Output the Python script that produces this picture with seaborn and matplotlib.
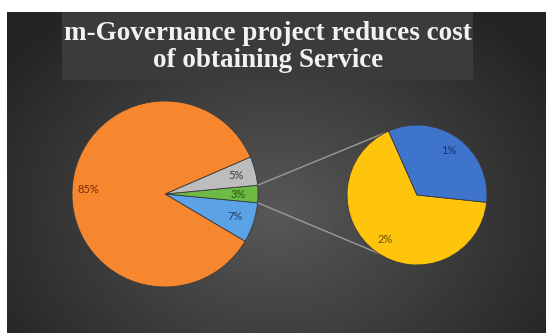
import numpy as np
import matplotlib
matplotlib.use("Agg")
import matplotlib.pyplot as plt
import seaborn as sns

# Main pie: share of respondents by cost change; "other" slice is broken out
main_labels = ["Cost reduced", "No change", "Other", "Cost increased"]
main_values = [85, 5, 3, 7]
main_colors = ["#F7872F", "#BDBDBD", "#6DBB45", "#5BA3E6"]
main_text_colors = ["#7A2C08", "#3A3A3A", "#24511A", "#1E3C6E"]

# Secondary pie: breakdown of the "other" slice
sub_labels = ["Reduced a little", "Reduced a lot"]
sub_values = [2, 1]
sub_colors = ["#FFC40C", "#3F74CC"]
sub_text_colors = ["#6E5200", "#1B2F66"]

title = "m-Governance project reduces cost\nof obtaining Service"

sns.set_style("white")
plt.rcParams["font.family"] = ["Lato", "DejaVu Sans"]

W, H = 546, 333
fig = plt.figure(figsize=(W / 100, H / 100), dpi=100, facecolor="white")
ax = fig.add_axes([0, 0, 1, 1])
ax.set_xlim(0, W)
ax.set_ylim(0, H)
ax.set_aspect("auto")
ax.axis("off")

# dark slide background with a soft radial glow
px0, py0, px1, py1 = 7, 0, W, H - 12
gx = np.linspace(px0, px1, 400)
gy = np.linspace(py0, py1, 260)
GX, GY = np.meshgrid(gx, gy)
d = np.sqrt(((GX - 275) / 330) ** 2 + ((GY - 120) / 260) ** 2)
d = np.clip(d, 0, 1)
c0 = np.array([0x58, 0x58, 0x58]) / 255
c1 = np.array([0x24, 0x24, 0x24]) / 255
img = c0[None, None, :] * (1 - d[..., None]) + c1[None, None, :] * d[..., None]
ax.imshow(img, extent=[px0, px1, py0, py1], origin="lower", zorder=0, aspect="auto")

# title band
ax.add_patch(plt.Rectangle((62, H - 80), 411, 68, facecolor="#3B3B3B",
                           edgecolor="none", zorder=1))
ax.text(268, H - 47, title, ha="center", va="center", color="#F2F2F2",
        fontsize=19.5, fontweight="bold", family="Liberation Serif",
        linespacing=1.12, zorder=2)

main_c = (165, H - 194)
main_r = 93
sub_c = (417, H - 195)
sub_r = 70

other_span = main_values[2] / sum(main_values) * 360
start_main = -other_span / 2 - main_values[3] / sum(main_values) * 360
# order drawn counter-clockwise: cost increased, other, no change, cost reduced
order = [3, 2, 1, 0]
wedges, _, autotexts = ax.pie(
    [main_values[i] for i in order],
    colors=[main_colors[i] for i in order],
    center=main_c, radius=main_r, startangle=start_main, counterclock=True,
    autopct=lambda p: f"{p:.0f}%", pctdistance=0.79,
    wedgeprops=dict(edgecolor="#3a3a3a", linewidth=0.6),
    textprops=dict(fontsize=8), frame=True)
for t, i in zip(autotexts, order):
    t.set_color(main_text_colors[i])
autotexts[3].set_position((main_c[0] + 0.83 * main_r * np.cos(np.radians(176.4)),
                           main_c[1] + 0.83 * main_r * np.sin(np.radians(176.4))))

sub_wedges, _, sub_autotexts = ax.pie(
    sub_values, colors=sub_colors, center=sub_c, radius=sub_r,
    startangle=114, counterclock=True,
    autopct=lambda p: f"{p * sum(sub_values) / 100:.0f}%", pctdistance=0.78,
    wedgeprops=dict(edgecolor="#3a3a3a", linewidth=0.6),
    textprops=dict(fontsize=8), frame=True)
for t, c in zip(sub_autotexts, sub_text_colors):
    t.set_color(c)

ax.set_xlim(0, W)
ax.set_ylim(0, H)
ax.axis("off")

# connector lines from the "other" slice to the secondary pie
other_w = wedges[1]
a_top, a_bot = np.radians(other_w.theta2), np.radians(other_w.theta1)
p_top = (main_c[0] + main_r * np.cos(a_top), main_c[1] + main_r * np.sin(a_top))
p_bot = (main_c[0] + main_r * np.cos(a_bot), main_c[1] + main_r * np.sin(a_bot))
q_top = (sub_c[0] + sub_r * np.cos(np.radians(118)), sub_c[1] + sub_r * np.sin(np.radians(118)))
q_bot = (sub_c[0] + sub_r * np.cos(np.radians(-124)), sub_c[1] + sub_r * np.sin(np.radians(-124)))
ax.plot([p_top[0], q_top[0]], [p_top[1], q_top[1]], color="#9A9A9A", lw=1.0, zorder=0.5)
ax.plot([p_bot[0], q_bot[0]], [p_bot[1], q_bot[1]], color="#9A9A9A", lw=1.0, zorder=0.5)
for w in wedges + sub_wedges:
    w.set_zorder(3)
for t in autotexts + sub_autotexts:
    t.set_zorder(4)

fig.savefig("out.png", dpi=100, facecolor="white")
